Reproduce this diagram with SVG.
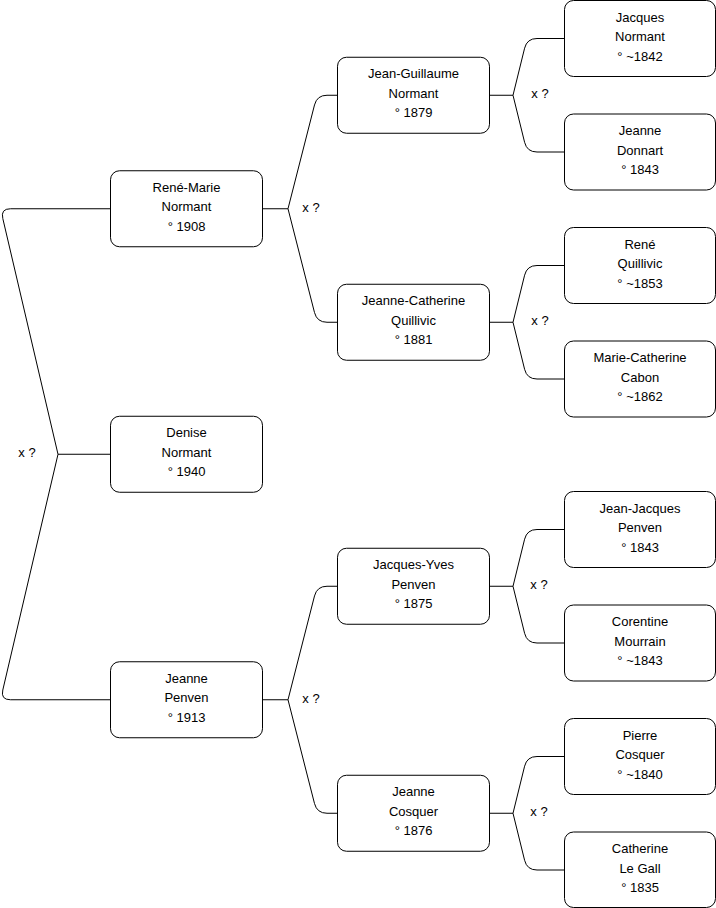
<svg xmlns="http://www.w3.org/2000/svg" width="716" height="908" viewBox="0 0 716 908">
<style>
rect.box{fill:#fff;stroke:#000;stroke-width:1}
text{font-family:"Liberation Sans",Arial,sans-serif;font-size:13px;fill:#000;text-anchor:middle}
.edges path{fill:none;stroke:#000;stroke-width:1}
</style>
<rect width="716" height="908" fill="#fff"/>
<g class="edges" id="connectors">
<path d="M110.5,454.25 H58 L2.8,218.5 Q0.5,208.75 10.5,208.75 H110.5"/>
<path d="M58,454.25 L2.8,690 Q0.5,699.75 10.5,699.75 H110.5"/>
<path d="M262.5,208.75 H288 L314.5,104.94 Q317,95.25 327,95.25 H337.5"/>
<path d="M288,208.75 L314.5,312.56 Q317,322.25 327,322.25 H337.5"/>
<path d="M262.5,699.75 H288 L314.5,595.94 Q317,586.25 327,586.25 H337.5"/>
<path d="M288,699.75 L314.5,803.56 Q317,813.25 327,813.25 H337.5"/>
<path d="M489.5,95.25 H513 L524.6,48.2 Q527,38.5 537,38.5 H564.5"/>
<path d="M513,95.25 L524.6,142.3 Q527,152 537,152 H564.5"/>
<path d="M489.5,322.25 H513 L524.6,275.2 Q527,265.5 537,265.5 H564.5"/>
<path d="M513,322.25 L524.6,369.3 Q527,379 537,379 H564.5"/>
<path d="M489.5,586.25 H513 L524.6,539.2 Q527,529.5 537,529.5 H564.5"/>
<path d="M513,586.25 L524.6,633.3 Q527,643 537,643 H564.5"/>
<path d="M489.5,813.25 H513 L524.6,766.2 Q527,756.5 537,756.5 H564.5"/>
<path d="M513,813.25 L524.6,860.3 Q527,870 537,870 H564.5"/>
<text x="27" y="456.5">x ?</text>
<text x="311" y="212">x ?</text>
<text x="311" y="702.5">x ?</text>
<text x="540" y="97.5">x ?</text>
<text x="540" y="324.5">x ?</text>
<text x="539" y="588.5">x ?</text>
<text x="539" y="815.5">x ?</text>
</g>
<g id="denise"><rect class="box" x="110.5" y="416.25" width="152" height="76" rx="9"/><text x="186.5" y="437.25">Denise</text><text x="186.5" y="456.75">Normant</text><text x="186.5" y="476.25">° 1940</text></g>
<g id="rene-marie"><rect class="box" x="110.5" y="170.75" width="152" height="76" rx="9"/><text x="186.5" y="191.75">René-Marie</text><text x="186.5" y="211.25">Normant</text><text x="186.5" y="230.75">° 1908</text></g>
<g id="jeanne-penven"><rect class="box" x="110.5" y="661.75" width="152" height="76" rx="9"/><text x="186.5" y="682.75">Jeanne</text><text x="186.5" y="702.25">Penven</text><text x="186.5" y="721.75">° 1913</text></g>
<g id="jean-guillaume"><rect class="box" x="337.5" y="57.25" width="152" height="76" rx="9"/><text x="413.5" y="78.25">Jean-Guillaume</text><text x="413.5" y="97.75">Normant</text><text x="413.5" y="117.25">° 1879</text></g>
<g id="jeanne-catherine"><rect class="box" x="337.5" y="284.25" width="152" height="76" rx="9"/><text x="413.5" y="305.25">Jeanne-Catherine</text><text x="413.5" y="324.75">Quillivic</text><text x="413.5" y="344.25">° 1881</text></g>
<g id="jacques-yves"><rect class="box" x="337.5" y="548.25" width="152" height="76" rx="9"/><text x="413.5" y="569.25">Jacques-Yves</text><text x="413.5" y="588.75">Penven</text><text x="413.5" y="608.25">° 1875</text></g>
<g id="jeanne-cosquer"><rect class="box" x="337.5" y="775.25" width="152" height="76" rx="9"/><text x="413.5" y="796.25">Jeanne</text><text x="413.5" y="815.75">Cosquer</text><text x="413.5" y="835.25">° 1876</text></g>
<g id="jacques"><rect class="box" x="564.5" y="0.5" width="151" height="76" rx="9"/><text x="640" y="21.5">Jacques</text><text x="640" y="41">Normant</text><text x="640" y="60.5">° ~1842</text></g>
<g id="jeanne-donnart"><rect class="box" x="564.5" y="114" width="151" height="76" rx="9"/><text x="640" y="135">Jeanne</text><text x="640" y="154.5">Donnart</text><text x="640" y="174">° 1843</text></g>
<g id="rene"><rect class="box" x="564.5" y="227.5" width="151" height="76" rx="9"/><text x="640" y="248.5">René</text><text x="640" y="268">Quillivic</text><text x="640" y="287.5">° ~1853</text></g>
<g id="marie-catherine"><rect class="box" x="564.5" y="341" width="151" height="76" rx="9"/><text x="640" y="362">Marie-Catherine</text><text x="640" y="381.5">Cabon</text><text x="640" y="401">° ~1862</text></g>
<g id="jean-jacques"><rect class="box" x="564.5" y="491.5" width="151" height="76" rx="9"/><text x="640" y="512.5">Jean-Jacques</text><text x="640" y="532">Penven</text><text x="640" y="551.5">° 1843</text></g>
<g id="corentine"><rect class="box" x="564.5" y="605" width="151" height="76" rx="9"/><text x="640" y="626">Corentine</text><text x="640" y="645.5">Mourrain</text><text x="640" y="665">° ~1843</text></g>
<g id="pierre"><rect class="box" x="564.5" y="718.5" width="151" height="76" rx="9"/><text x="640" y="739.5">Pierre</text><text x="640" y="759">Cosquer</text><text x="640" y="778.5">° ~1840</text></g>
<g id="catherine"><rect class="box" x="564.5" y="832" width="151" height="75.5" rx="9"/><text x="640" y="853">Catherine</text><text x="640" y="872.5">Le Gall</text><text x="640" y="892">° 1835</text></g>
</svg>
